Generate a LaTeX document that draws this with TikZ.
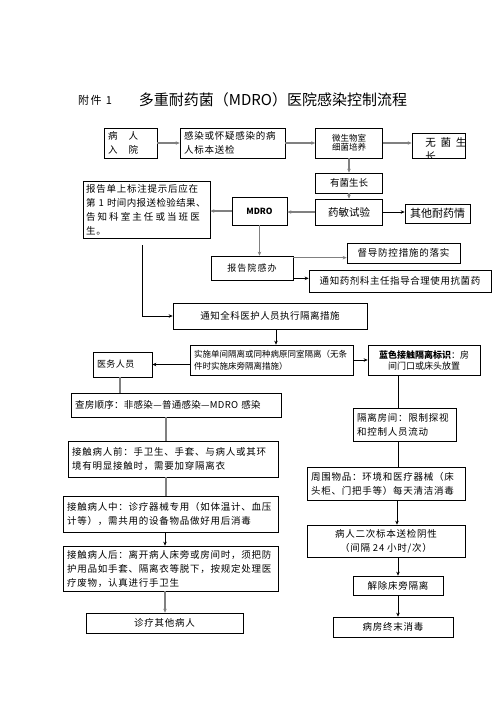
\documentclass[tikz,border=0pt]{standalone}
\usepackage{fontspec}
\setmainfont{Noto Sans CJK SC}
\usetikzlibrary{arrows.meta,positioning}

\tikzset{
  box/.style={draw, line width=0.7pt, inner xsep=4pt, inner ysep=1.5pt,
    font=\fontsize{9.5}{14}\selectfont\addfontfeature{LetterSpace=8}},
  lbox/.style={box, align=left},
  cbox/.style={box, align=center},
  gline/.style={draw=gray, line width=1.6pt},
  bline/.style={draw=black, line width=0.7pt},
  >={Stealth[length=4pt,width=3.5pt]},
}

\begin{document}
\begin{tikzpicture}[x=1pt,y=-1pt]
  \useasboundingbox (0,0) rectangle (496,702);

  % title
  \node[font=\fontsize{11}{12}\selectfont\addfontfeature{LetterSpace=15}] (annex) at (95,100) {附件 1};
  \node[font=\fontsize{15}{16}\selectfont] (title) at (273,100) {多重耐药菌（MDRO）医院感染控制流程};

  % laboratory
  \node[lbox, text width=45pt, minimum height=30pt] (admit) at (130.5,143) {病　人\\入　院};
  \node[lbox, text width=97pt, minimum height=30pt] (specimen) at (232.5,143) {感染或怀疑感染的病\\人标本送检};
  \node[cbox, minimum width=67pt, minimum height=30pt, font=\fontsize{8.5}{9}\selectfont] (culture) at (349,143) {微生物室\\细菌培养};
  \node[box, minimum width=53pt, minimum height=25pt,
    path picture={\node[anchor=north west, align=left, inner sep=0pt,
      font=\fontsize{10.5}{14}\selectfont\addfontfeature{LetterSpace=45}]
      at ([xshift=7pt,yshift=-4pt]path picture bounding box.north west) {无菌生\\长};}] (sterile) at (438.5,145.5) {};
  \node[cbox, minimum width=67pt, minimum height=20pt, font=\fontsize{9.5}{12}\selectfont] (growth) at (349,183) {有菌生长};
  \node[cbox, minimum width=67pt, minimum height=26pt, font=\fontsize{10.5}{12}\selectfont] (suscept) at (349,212) {药敏试验};
  \node[cbox, minimum width=65pt, minimum height=19pt, font=\fontsize{11}{12}\selectfont] (otherres) at (437.5,213.5) {其他耐药情};
  \node[cbox, minimum width=55pt, minimum height=28pt, font=\fontsize{8.5}{10}\selectfont\bfseries] (mdro) at (259.5,211) {MDRO};
  \node[lbox, text width=121pt, inner xsep=3pt, minimum height=57pt] (report) at (146.5,209.5)
    {报告单上标注提示后应在\\{\addfontfeature{LetterSpace=4}第~1~时间内报送检验结果、}\\{\addfontfeature{LetterSpace=22}告知科室主任或当班医}\\生。};

  % infection office
  \node[cbox, minimum width=82pt, minimum height=24pt, font=\fontsize{9}{12}\selectfont\addfontfeature{LetterSpace=12}] (office) at (252,268) {报告院感办};
  \node[cbox, minimum width=113pt, minimum height=20pt] (supervise) at (403.5,253) {督导防控措施的落实};
  \node[cbox, minimum width=182pt, minimum height=22pt, font=\fontsize{9.5}{12}\selectfont\addfontfeature{LetterSpace=6}] (pharmacy) at (400,281) {通知药剂科主任指导合理使用抗菌药};
  \node[cbox, minimum width=194pt, minimum height=26pt, font=\fontsize{9.5}{12}\selectfont\addfontfeature{LetterSpace=5}] (notify) at (270,316) {通知全科医护人员执行隔离措施};
  \node[lbox, text width=155pt, minimum height=30pt, font=\fontsize{8.5}{12}\selectfont] (isolate) at (271.5,360)
    {实施单间隔离或同种病原同室隔离（无条\\件时实施床旁隔离措施）};
  \node[lbox, text width=51pt, minimum height=25pt, font=\fontsize{9}{12}\selectfont\addfontfeature{LetterSpace=5}] (staff) at (122.5,364.5) {医务人员};
  \node[cbox, minimum width=112pt, minimum height=30pt, font=\fontsize{9}{11}\selectfont] (sign) at (424,360)
    {\textbf{蓝色接触隔离标识}：房\\间门口或床头放置};

  % staff column
  \node[lbox, text width=202pt, minimum height=24pt, font=\fontsize{9.5}{14}\selectfont\addfontfeature{LetterSpace=3}] (rounds) at (176,405) {查房顺序：非感染—普通感染—MDRO 感染};
  \node[lbox, text width=202pt, minimum height=36pt] (before) at (173,459)
    {接触病人前：手卫生、手套、与病人或其环\\境有明显接触时，需要加穿隔离衣};
  \node[lbox, text width=207pt, minimum height=36pt] (during) at (170.5,514)
    {接触病人中：诊疗器械专用（如体温计、血压\\计等），需共用的设备物品做好用后消毒};
  \node[lbox, text width=207pt, minimum height=45pt] (after) at (170.5,568.5)
    {接触病人后：离开病人床旁或房间时，须把防\\护用品如手套、隔离衣等脱下，按规定处理医\\疗废物，认真进行手卫生};
  \node[cbox, minimum width=157pt, minimum height=20pt] (nextpt) at (164.5,623) {诊疗其他病人};

  % room column
  \node[lbox, text width=95pt, minimum height=33pt] (room) at (404.5,424.5) {隔离房间：限制探视\\和控制人员流动};
  \node[lbox, text width=150pt, minimum height=33pt] (items) at (386,483.5)
    {周围物品：环境和医疗器械（床\\头柜、门把手等）每天清洁消毒};
  \node[cbox, minimum width=158pt, minimum height=32pt] (negative) at (386,541) {病人二次标本送检阴性\\（间隔 24 小时/次）};
  \node[cbox, minimum width=90pt, minimum height=19pt] (release) at (398,585.5) {解除床旁隔离};
  \node[cbox, minimum width=120pt, minimum height=20pt] (terminal) at (393,627) {病房终末消毒};

  % connectors
  \draw[gline,->] (admit) -- (specimen);
  \draw[gline,->] (specimen) -- (culture);
  \draw[gline,->] (culture.east) -- (culture.east -| sterile.west);
  \draw[gline,->] (culture) -- (growth);
  \draw[gline,->] (growth) -- (suscept);
  \draw[bline,->] (suscept.east) -- (suscept.east -| otherres.west);
  \draw[gline,->] (suscept.west) -- (suscept.west -| mdro.east);
  \draw[gline,->] (mdro.west) -- (mdro.west -| report.east);
  \draw[gline,->] (mdro.south) -- (mdro.south |- office.north);
  \draw[gline,->] ([yshift=-2pt]office.north east) -- ([yshift=-2pt]office.north east -| supervise.west);
  \draw[bline,->] ([yshift=2pt]office.south east) -- ([yshift=2pt]office.south east -| pharmacy.west);
  \draw[bline,->,shorten <=7pt] ([xshift=-4.5pt]report.south) |- (notify.west);
  \draw[bline,->] ([xshift=6pt]notify.south) -- ([xshift=6pt]notify.south |- isolate.north);
  \draw[bline,->] (staff.east -| isolate.west) -- (staff.east);
  \draw[bline,->] (isolate.east) -- (isolate.east -| sign.west);

  \draw[gline] ([xshift=-2.5pt]staff.south) -- ([xshift=-2.5pt]staff.south |- rounds.north);
  \draw[gline] ([xshift=-7pt]before.north |- rounds.south) -- ([xshift=-7pt]before.north);
  \draw[gline] ([xshift=-7pt]before.south) -- ([xshift=-7pt]before.south |- during.north);
  \draw[bline,->] ([xshift=-5.5pt]during.south) -- ([xshift=-5.5pt]during.south |- after.north);
  \draw[gline,->] ([xshift=-5.5pt]after.south) -- ([xshift=-5.5pt]after.south |- nextpt.north);

  \draw[bline] ([xshift=-6.5pt]room.north |- sign.south) -- ([xshift=-6.5pt]room.north);
  \draw[bline] ([xshift=-6.5pt]room.south) -- ([xshift=-6.5pt]room.south |- items.north);
  \draw[bline,->] ([xshift=11pt]items.south) -- ([xshift=11pt]items.south |- negative.north);
  \draw[bline,->] (release.north |- negative.south) -- (release.north);
  \draw[bline,->] (release.south) -- (release.south |- terminal.north);
\end{tikzpicture}
\end{document}
